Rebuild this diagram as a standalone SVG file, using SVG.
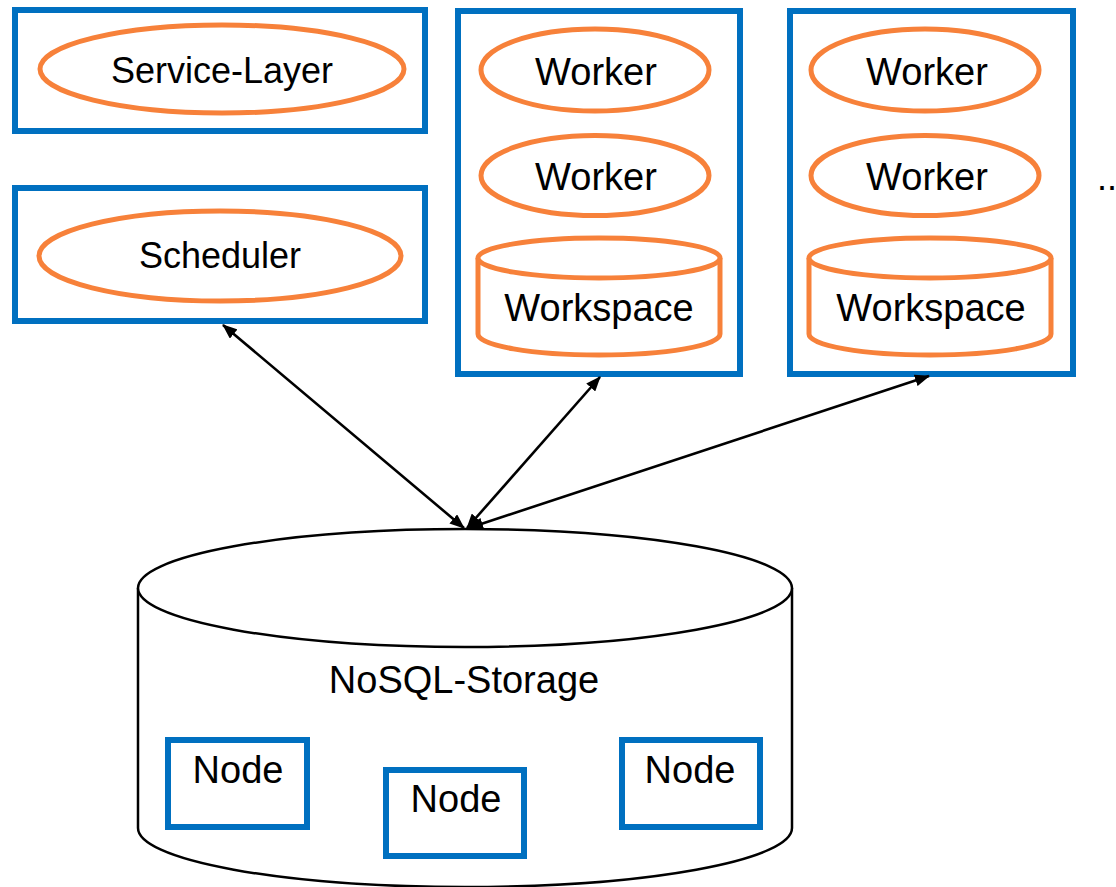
<svg xmlns="http://www.w3.org/2000/svg" width="1116" height="887" viewBox="0 0 1116 887">
<style>
.box{fill:#fff;stroke:#0070C0;stroke-width:6}
.ell{fill:#fff;stroke:#F7813A;stroke-width:5}
.cyl{fill:#fff;stroke:#F7813A;stroke-width:5}
.db{fill:#fff;stroke:#000;stroke-width:2.5}
.t{font-family:"Liberation Sans",Arial,sans-serif;font-size:36px;fill:#000;text-anchor:middle}
.tw{font-size:38px}
.con{stroke:#000;stroke-width:2.6;fill:none;marker-start:url(#ah);marker-end:url(#ah)}
</style>
<defs>
<marker id="ah" viewBox="0 0 15 12" refX="14" refY="6" markerWidth="15" markerHeight="12" orient="auto-start-reverse" markerUnits="userSpaceOnUse">
<path d="M0,0 L15,6 L0,12 z" fill="#000"/>
</marker>
</defs>
<rect width="1116" height="887" fill="#fff"/>

<g id="service-layer">
<rect class="box" x="15" y="10" width="410" height="121"/>
<ellipse class="ell" cx="222" cy="69" rx="182" ry="44"/>
<text class="t" x="222" y="83">Service-Layer</text>
</g>

<g id="scheduler">
<rect class="box" x="15" y="188" width="410" height="133"/>
<ellipse class="ell" cx="220" cy="256" rx="181" ry="45"/>
<text class="t" x="220" y="268">Scheduler</text>
</g>

<g id="worker-host-1">
<rect class="box" x="458" y="11" width="282" height="363"/>
<g id="worker-1a">
<ellipse class="ell" cx="595" cy="70" rx="114" ry="41"/>
<text class="t tw" x="596" y="85">Worker</text>
</g>
<g id="worker-1b">
<ellipse class="ell" cx="595" cy="175.5" rx="114" ry="40"/>
<text class="t tw" x="596" y="190">Worker</text>
</g>
<g id="workspace-1">
<path class="cyl" d="M478,258 L478,334 A121,21 0 0 0 720,334 L720,258"/>
<ellipse class="cyl" cx="599" cy="258" rx="121" ry="20"/>
<text class="t tw" x="599" y="321">Workspace</text>
</g>
</g>

<g id="worker-host-2">
<rect class="box" x="790" y="11" width="283" height="363"/>
<g id="worker-2a">
<ellipse class="ell" cx="925" cy="70" rx="114" ry="41"/>
<text class="t tw" x="927" y="85">Worker</text>
</g>
<g id="worker-2b">
<ellipse class="ell" cx="925" cy="175.5" rx="114" ry="40"/>
<text class="t tw" x="927" y="190">Worker</text>
</g>
<g id="workspace-2">
<path class="cyl" d="M809,258 L809,334 A121,21 0 0 0 1051,334 L1051,258"/>
<ellipse class="cyl" cx="930" cy="258" rx="121" ry="20"/>
<text class="t tw" x="931" y="321">Workspace</text>
</g>
</g>

<g id="ellipsis">
<text class="t" x="1107" y="190">..</text>
</g>

<g id="nosql-storage">
<path class="db" d="M138,588 L138,828 A327,59 0 0 0 792,828 L792,588"/>
<ellipse class="db" cx="465" cy="588" rx="327" ry="59"/>
<text class="t tw" x="464" y="693">NoSQL-Storage</text>
<g id="node-1">
<rect class="box" x="168" y="740" width="139" height="87"/>
<text class="t tw" x="238" y="783">Node</text>
</g>
<g id="node-2">
<rect class="box" x="386" y="770" width="138" height="86"/>
<text class="t tw" x="456" y="812">Node</text>
</g>
<g id="node-3">
<rect class="box" x="622" y="740" width="138" height="87"/>
<text class="t tw" x="690" y="783">Node</text>
</g>
</g>

<g id="connectors">
<line class="con" x1="223" y1="325" x2="464" y2="528"/>
<line class="con" x1="600" y1="377" x2="467" y2="528"/>
<line class="con" x1="929" y1="376" x2="469" y2="528"/>
</g>
</svg>
